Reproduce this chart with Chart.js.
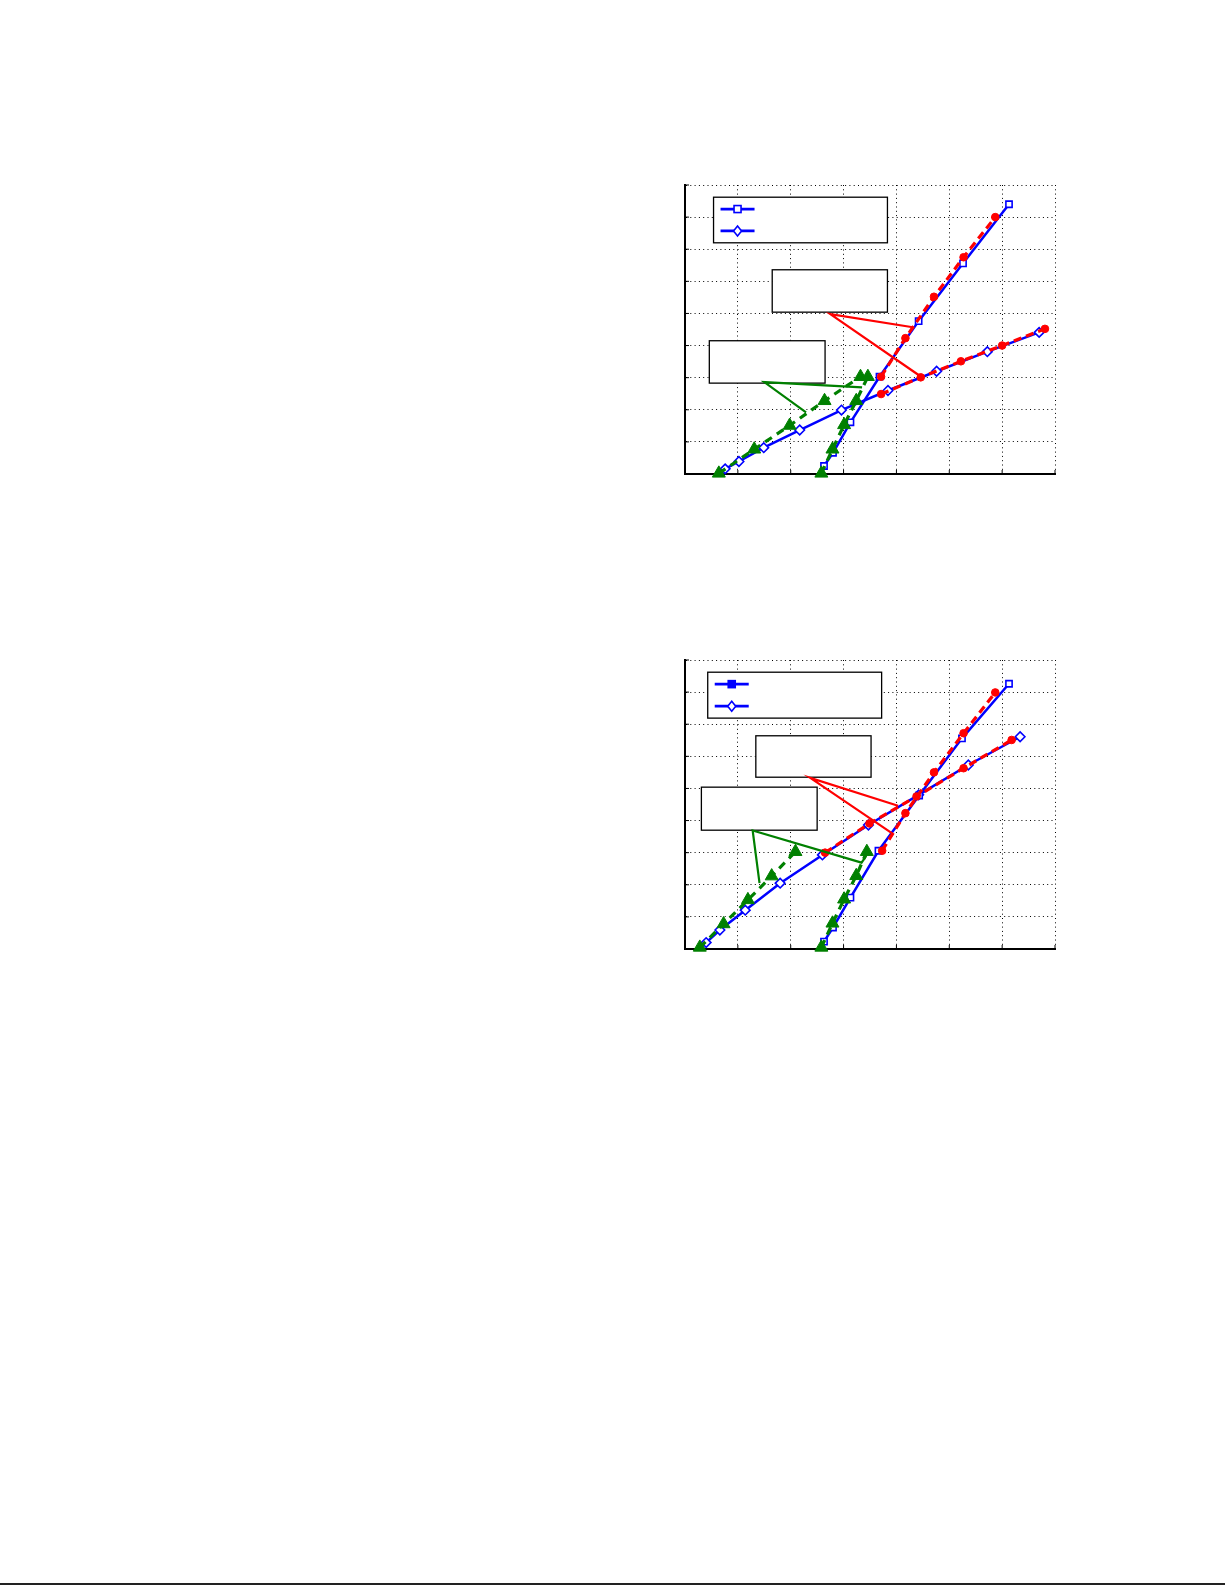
<!DOCTYPE html>
<html>
<head>
<meta charset="utf-8">
<script src="https://cdn.jsdelivr.net/npm/chart.js@4.4.1/dist/chart.umd.min.js"></script>
<style>
  html, body { margin: 0; padding: 0; background: #fff; }
  body { width: 1225px; height: 1585px; position: relative; overflow: hidden; }
  .plot { position: absolute; left: 675px; width: 390px; height: 309px; }
  #top-wrap { top: 175px; }
  #bottom-wrap { top: 650px; }
  .page-edge { position: absolute; left: 0; right: 0; bottom: 0; height: 2px; background: #222; }
</style>
</head>
<body>
<div class="plot" id="top-wrap"><canvas id="chart-top"></canvas></div>
<div class="plot" id="bottom-wrap"><canvas id="chart-bottom"></canvas></div>
<div class="page-edge"></div>
<script>
// axis ticks (no labels are printed in the figure)
const xTicks = [0, 1, 2, 3, 4, 5, 6, 7];
const yTicks = [0, 1, 2, 3, 4, 5, 6, 7, 8, 9];

// upper panel
const upSquareX = [2.63, 2.80, 3.13, 3.68, 4.42, 5.26, 6.13];
const upSquareY = [0.25, 0.66, 1.61, 3.03, 4.76, 6.56, 8.40];
const upSteepRedX = [3.71, 4.17, 4.71, 5.27, 5.87];
const upSteepRedY = [3.03, 4.23, 5.52, 6.75, 8.00];
const upDiamondX = [0.76, 1.02, 1.49, 2.17, 2.96, 3.84, 4.76, 5.72, 6.70];
const upDiamondY = [0.16, 0.39, 0.82, 1.37, 1.99, 2.60, 3.20, 3.81, 4.41];
const upFlatRedX = [3.71, 4.46, 5.22, 6.00, 6.81];
const upFlatRedY = [2.49, 3.01, 3.51, 4.00, 4.52];
const upFlatGreenX = [0.64, 1.31, 1.98, 2.64, 3.32];
const upFlatGreenY = [0.02, 0.77, 1.51, 2.28, 3.03];
const upSteepGreenX = [2.58, 2.79, 3.01, 3.24, 3.46];
const upSteepGreenY = [0.02, 0.77, 1.53, 2.28, 3.03];

// lower panel
const loSquareX = [2.63, 2.80, 3.13, 3.66, 4.43, 5.24, 6.13];
const loSquareY = [0.23, 0.67, 1.60, 3.06, 4.78, 6.56, 8.26];
const loSteepRedX = [3.73, 4.17, 4.71, 5.27, 5.87];
const loSteepRedY = [3.06, 4.23, 5.50, 6.72, 7.99];
const loDiamondX = [0.40, 0.66, 1.14, 1.80, 2.60, 3.47, 4.42, 5.36, 6.34];
const loDiamondY = [0.20, 0.59, 1.21, 2.05, 2.93, 3.86, 4.80, 5.73, 6.61];
const loFlatRedX = [2.65, 3.49, 4.38, 5.27, 6.18];
const loFlatRedY = [3.00, 3.91, 4.75, 5.63, 6.51];
const loFlatGreenX = [0.28, 0.73, 1.19, 1.64, 2.09];
const loFlatGreenY = [0.05, 0.78, 1.53, 2.27, 3.03];
const loSteepGreenX = [2.58, 2.79, 3.01, 3.24, 3.44];
const loSteepGreenY = [0.05, 0.80, 1.55, 2.28, 3.03];

const blue = '#0000ff';
const red = '#ff0000';
const green = '#008000';

const pts = (xs, ys) => xs.map((x, i) => ({ x, y: ys[i] }));

function blueLine(data, style) {
    return {
        data,
        borderColor: blue,
        borderWidth: 2.5,
        pointStyle: style,
        pointRadius: style === 'rect' ? 4.4 : 4.8,
        pointBackgroundColor: '#fff',
        pointBorderColor: blue,
        pointBorderWidth: 1.6,
        order: 2,
        clip: false
    };
}

function redLine(data) {
    return {
        data,
        borderColor: red,
        borderWidth: 3.2,
        borderDash: [8, 5],
        pointStyle: 'circle',
        pointRadius: 3.8,
        pointBackgroundColor: red,
        pointBorderColor: red,
        pointBorderWidth: 1,
        order: 1,
        clip: false
    };
}

function greenLine(data) {
    return {
        data,
        borderColor: green,
        borderWidth: 3.2,
        borderDash: [8, 6],
        pointStyle: 'triangle',
        pointRadius: 7.5,
        pointBackgroundColor: green,
        pointBorderColor: green,
        pointBorderWidth: 1,
        order: 1,
        clip: false
    };
}

// boxes, pointer lines and legend, placed in axis units
const upOverlay = {
    legend: { x0: 0.54, x1: 3.83, y0: 8.62, y1: 7.20, filled: false },
    boxes: [
        { x0: 1.65, x1: 3.83, y0: 6.36, y1: 5.04 },
        { x0: 0.46, x1: 2.65, y0: 4.15, y1: 2.83 }
    ],
    pointers: [
        { color: red, path: [[4.31, 4.57], [2.75, 4.98], [4.44, 3.06]] },
        { color: green, path: [[3.35, 2.70], [1.50, 2.86], [2.29, 1.92]] }
    ]
};

const loOverlay = {
    legend: { x0: 0.43, x1: 3.72, y0: 8.62, y1: 7.19, filled: true },
    boxes: [
        { x0: 1.34, x1: 3.52, y0: 6.64, y1: 5.35 },
        { x0: 0.31, x1: 2.50, y0: 5.04, y1: 3.70 }
    ],
    pointers: [
        { color: red, path: [[4.03, 4.46], [2.37, 5.33], [3.92, 3.60]] },
        { color: green, path: [[1.41, 2.05], [1.28, 3.69], [3.34, 2.69], [3.43, 2.90]] }
    ]
};

const overlayPlugin = {
    id: 'overlay',
    afterDatasetsDraw(chart, args, opts) {
        const { ctx, scales: { x, y } } = chart;
        const px = v => x.getPixelForValue(v);
        const py = v => y.getPixelForValue(v);
        ctx.save();

        // inward tick marks on the left and bottom axes
        ctx.strokeStyle = '#000';
        ctx.lineWidth = 1;
        ctx.beginPath();
        xTicks.forEach(t => { ctx.moveTo(px(t), py(0)); ctx.lineTo(px(t), py(0) - 4); });
        yTicks.forEach(t => { ctx.moveTo(px(0), py(t)); ctx.lineTo(px(0) + 4, py(t)); });
        ctx.stroke();

        // text boxes
        const rect = b => {
            const l = px(b.x0), t = py(b.y0), w = px(b.x1) - l, h = py(b.y1) - t;
            ctx.fillStyle = '#fff';
            ctx.fillRect(l, t, w, h);
            ctx.strokeStyle = '#000';
            ctx.lineWidth = 1.3;
            ctx.strokeRect(l, t, w, h);
        };
        opts.boxes.forEach(rect);
        rect(opts.legend);

        // pointer lines
        opts.pointers.forEach(p => {
            ctx.strokeStyle = p.color;
            ctx.lineWidth = 2.2;
            ctx.beginPath();
            p.path.forEach(([a, b], i) => i ? ctx.lineTo(px(a), py(b)) : ctx.moveTo(px(a), py(b)));
            ctx.stroke();
        });

        // legend samples
        const lg = opts.legend;
        const lx = px(lg.x0);
        const top = py(lg.y0), h = py(lg.y1) - top;
        const rows = [top + h * 0.26, top + h * 0.74];
        ctx.strokeStyle = blue;
        ctx.lineWidth = 2.8;
        rows.forEach(ry => {
            ctx.beginPath();
            ctx.moveTo(lx + 7, ry);
            ctx.lineTo(lx + 41, ry);
            ctx.stroke();
        });
        const mx = lx + 24;
        ctx.lineWidth = 1.6;
        ctx.fillStyle = lg.filled ? blue : '#fff';
        ctx.fillRect(mx - 3.5, rows[0] - 3.5, 7, 7);
        ctx.strokeRect(mx - 3.5, rows[0] - 3.5, 7, 7);
        ctx.fillStyle = '#fff';
        ctx.beginPath();
        ctx.moveTo(mx, rows[1] - 5);
        ctx.lineTo(mx + 4, rows[1]);
        ctx.lineTo(mx, rows[1] + 5);
        ctx.lineTo(mx - 4, rows[1]);
        ctx.closePath();
        ctx.fill();
        ctx.stroke();

        ctx.restore();
    }
};

function axes() {
    const common = {
        type: 'linear',
        ticks: { display: false, stepSize: 1 },
        grid: { color: '#000', lineWidth: 1, drawTicks: false },
        border: { display: true, color: '#000', width: 2, dash: [1, 3.3] }
    };
    return {
        x: { ...common, min: 0, max: 7 },
        y: { ...common, min: 0, max: 9 }
    };
}

function makeChart(id, datasets, overlay) {
    new Chart(document.getElementById(id), {
        type: 'line',
        data: { datasets },
        options: {
            responsive: true,
            maintainAspectRatio: false,
            animation: false,
            layout: { padding: 10, autoPadding: false },
            plugins: {
                legend: { display: false },
                tooltip: { enabled: false },
                overlay
            },
            scales: axes()
        },
        plugins: [overlayPlugin]
    });
}

makeChart('chart-top', [
    blueLine(pts(upSquareX, upSquareY), 'rect'),
    blueLine(pts(upDiamondX, upDiamondY), 'rectRot'),
    redLine(pts(upSteepRedX, upSteepRedY)),
    redLine(pts(upFlatRedX, upFlatRedY)),
    greenLine(pts(upFlatGreenX, upFlatGreenY)),
    greenLine(pts(upSteepGreenX, upSteepGreenY))
], upOverlay);

makeChart('chart-bottom', [
    blueLine(pts(loSquareX, loSquareY), 'rect'),
    blueLine(pts(loDiamondX, loDiamondY), 'rectRot'),
    redLine(pts(loSteepRedX, loSteepRedY)),
    redLine(pts(loFlatRedX, loFlatRedY)),
    greenLine(pts(loFlatGreenX, loFlatGreenY)),
    greenLine(pts(loSteepGreenX, loSteepGreenY))
], loOverlay);
</script>
</body>
</html>
